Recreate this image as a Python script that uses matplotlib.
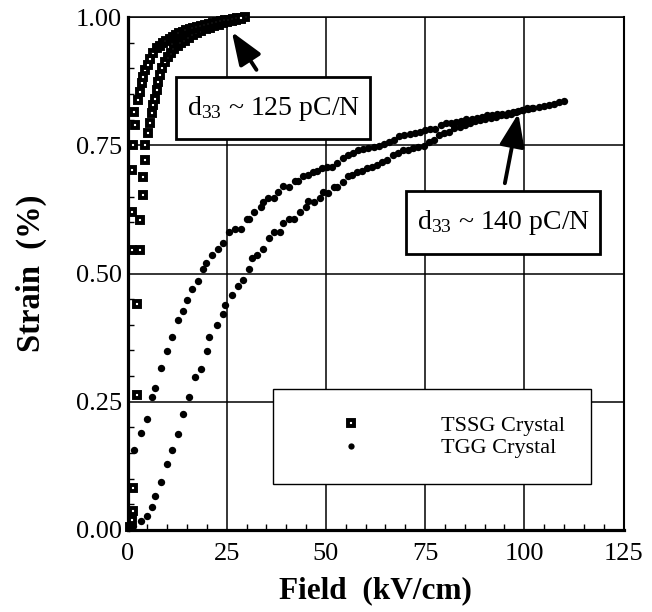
import matplotlib
matplotlib.use("Agg")
import matplotlib.pyplot as plt
from matplotlib.patches import Rectangle
from matplotlib.ticker import MultipleLocator, FixedLocator

plt.rcParams["font.family"] = ["Liberation Serif", "DejaVu Serif"]
plt.rcParams["mathtext.fontset"] = "custom"
plt.rcParams["mathtext.rm"] = "Liberation Serif"
plt.rcParams["mathtext.it"] = "Liberation Serif:italic"
plt.rcParams["mathtext.bf"] = "Liberation Serif:bold"

# ---- TSSG crystal: rising-field branch ----
tssg_up_field = [0.6, 1.1, 1.5, 1.5, 2.3, 2.3, 3.2, 3.2, 3.8, 3.8, 4.4, 4.4, 5.2, 5.7,
                 6.1, 6.5, 6.9, 7.4, 7.8, 8.2, 8.6, 9.5, 10.2, 11.0, 11.8, 12.7, 13.6,
                 14.5, 15.5, 16.5, 17.5, 18.6, 19.7, 20.8, 21.9, 23.0, 24.1, 25.2, 26.3,
                 27.4, 28.5, 29.6]
tssg_up_strain = [0.006, 0.019, 0.037, 0.081, 0.263, 0.440, 0.546, 0.605, 0.653, 0.689,
                  0.721, 0.750, 0.773, 0.793, 0.812, 0.828, 0.841, 0.858, 0.874, 0.887,
                  0.900, 0.913, 0.922, 0.930, 0.937, 0.943, 0.949, 0.954, 0.959, 0.964,
                  0.968, 0.972, 0.976, 0.979, 0.982, 0.985, 0.988, 0.990, 0.993, 0.995,
                  0.997, 1.000]

# ---- TSSG crystal: falling-field branch ----
tssg_down_field = [1.1, 1.1, 1.1, 1.5, 1.9, 1.6, 2.7, 3.2, 3.6, 4.0, 4.4, 5.1, 5.7, 6.5,
                   7.4, 8.2, 9.0, 9.8, 10.6, 11.4, 12.2, 13.0, 13.9, 14.8, 15.7, 16.6,
                   17.5, 18.5, 19.5, 20.5, 21.5, 22.5, 23.5, 24.5, 25.5, 26.5, 27.5, 28.5]
tssg_down_strain = [0.546, 0.620, 0.702, 0.750, 0.790, 0.815, 0.838, 0.854, 0.871, 0.884,
                    0.897, 0.906, 0.919, 0.929, 0.939, 0.944, 0.950, 0.954, 0.958, 0.961,
                    0.965, 0.968, 0.971, 0.974, 0.977, 0.979, 0.981, 0.983, 0.985, 0.987,
                    0.989, 0.991, 0.993, 0.994, 0.995, 0.997, 0.998, 0.999]

# ---- TGG crystal: rising-field branch ----
tgg_up_field = [0.5, 1.5, 3.3, 4.8, 6.3, 6.9, 8.4, 9.9, 11.3, 12.7, 14.1, 15.6, 17.0, 18.4,
                20.0, 20.6, 22.5, 24.1, 24.6, 26.3, 27.8, 29.2, 30.7, 31.3, 32.7, 34.1,
                35.7, 36.9, 38.4, 39.3, 40.8, 42.0, 43.5, 45.0, 45.6, 47.0, 48.5, 49.2,
                50.6, 52.0, 52.9, 54.2, 55.6, 56.5, 57.8, 59.0, 60.3, 61.6, 62.9, 64.2,
                65.5, 66.8, 68.1, 69.4, 70.7, 72.0, 73.3, 74.6, 75.9, 77.2, 78.5, 79.8,
                81.1, 82.4, 83.7, 85.0, 86.3, 87.6, 88.9, 90.2, 91.5, 92.8, 94.1, 95.4,
                96.7, 98.0, 99.3, 100.6, 101.9]
tgg_up_strain = [0.003, 0.008, 0.018, 0.028, 0.044, 0.067, 0.094, 0.128, 0.155, 0.188,
                 0.227, 0.260, 0.299, 0.314, 0.349, 0.376, 0.400, 0.421, 0.439, 0.459,
                 0.476, 0.487, 0.509, 0.531, 0.537, 0.547, 0.570, 0.581, 0.581, 0.598,
                 0.607, 0.607, 0.619, 0.630, 0.642, 0.640, 0.648, 0.658, 0.656, 0.669,
                 0.669, 0.679, 0.690, 0.692, 0.697, 0.699, 0.706, 0.708, 0.712, 0.718,
                 0.722, 0.731, 0.735, 0.740, 0.741, 0.744, 0.747, 0.749, 0.757, 0.760,
                 0.770, 0.773, 0.776, 0.783, 0.785, 0.790, 0.794, 0.798, 0.800, 0.802,
                 0.804, 0.806, 0.808, 0.809, 0.811, 0.814, 0.818, 0.822, 0.823]

# ---- TGG crystal: falling-field branch ----
tgg_down_field = [1.6, 3.3, 4.8, 6.3, 6.9, 8.4, 9.9, 11.3, 12.7, 13.9, 14.9, 16.2, 17.8,
                  19.1, 19.8, 21.4, 22.7, 24.1, 25.7, 27.1, 28.5, 30.0, 30.6, 32.0, 33.6,
                  34.1, 35.5, 36.9, 37.9, 39.3, 40.7, 42.2, 43.0, 44.3, 45.6, 46.8, 47.8,
                  49.0, 50.3, 51.6, 52.9, 54.2, 55.5, 56.8, 58.1, 59.4, 60.7, 62.0, 63.3,
                  64.6, 65.9, 67.2, 68.5, 69.8, 71.1, 72.4, 73.7, 75.0, 76.3, 77.6, 78.9,
                  80.2, 81.5, 82.8, 84.1, 85.4, 86.7, 88.0, 89.3, 90.6, 91.9, 93.2, 94.5,
                  95.8, 97.1, 98.4, 99.7, 101.0, 102.3, 103.6, 104.9, 106.2, 107.5, 108.8,
                  110.0]
tgg_down_strain = [0.156, 0.190, 0.216, 0.260, 0.276, 0.316, 0.349, 0.377, 0.409, 0.426,
                   0.448, 0.470, 0.486, 0.508, 0.520, 0.536, 0.548, 0.559, 0.581, 0.586,
                   0.586, 0.607, 0.607, 0.619, 0.630, 0.640, 0.647, 0.647, 0.658, 0.671,
                   0.668, 0.680, 0.680, 0.690, 0.692, 0.697, 0.699, 0.705, 0.708, 0.708,
                   0.715, 0.725, 0.731, 0.734, 0.740, 0.742, 0.744, 0.747, 0.748, 0.752,
                   0.757, 0.760, 0.768, 0.770, 0.771, 0.773, 0.776, 0.780, 0.781, 0.782,
                   0.790, 0.793, 0.793, 0.795, 0.798, 0.801, 0.802, 0.804, 0.806, 0.808,
                   0.809, 0.810, 0.811, 0.812, 0.815, 0.816, 0.819, 0.821, 0.823, 0.825,
                   0.827, 0.829, 0.831, 0.834, 0.836]

x_ticks = [0, 25, 50, 75, 100, 125]
x_tick_labels = ["0", "25", "50", "75", "100", "125"]
y_ticks = [0.00, 0.25, 0.50, 0.75, 1.00]
y_tick_labels = ["0.00", "0.25", "0.50", "0.75", "1.00"]

series_names = ["TSSG Crystal", "TGG Crystal"]
d33_texts = [r"d$_{33}$ ~ 125 pC/N", r"d$_{33}$ ~ 140 pC/N"]

fig = plt.figure(figsize=(6.52, 6.12), dpi=100)
ax = fig.add_axes([127.5 / 652, 82 / 612, 496 / 652, 513 / 612])

sq = dict(linestyle="none", marker="s", markersize=4.4, markeredgewidth=2.8,
          markerfacecolor="white", markeredgecolor="black", clip_on=False, zorder=3)
dot = dict(linestyle="none", marker="o", markersize=5.3, markeredgewidth=0,
           color="black", clip_on=False, zorder=3)

h_tssg, = ax.plot(tssg_up_field, tssg_up_strain, **sq)
ax.plot(tssg_down_field, tssg_down_strain, **sq)
h_tgg, = ax.plot(tgg_up_field, tgg_up_strain, **dot)
ax.plot(tgg_down_field, tgg_down_strain, **dot)

ax.set_xlim(0, 125)
ax.set_ylim(0, 1.0)
ax.xaxis.set_major_locator(FixedLocator(x_ticks))
ax.set_xticklabels(x_tick_labels)
ax.yaxis.set_major_locator(FixedLocator(y_ticks))
ax.set_yticklabels(y_tick_labels)
ax.xaxis.set_minor_locator(MultipleLocator(5))
ax.yaxis.set_minor_locator(MultipleLocator(0.05))
ax.tick_params(which="both", direction="in", labelsize=19, colors="black")
ax.tick_params(which="major", length=0, pad=4)
ax.tick_params(axis="x", which="major", pad=9)
ax.tick_params(which="minor", length=4, width=1.0)
ax.grid(True, which="major", color="black", linewidth=1.1)
ax.set_axisbelow(True)

for side, lw in (("left", 2.3), ("bottom", 2.3), ("top", 1.1), ("right", 1.5)):
    ax.spines[side].set_linewidth(lw)
    ax.spines[side].set_color("black")

ax.set_xlabel("Field  (kV/cm)", fontsize=22.5, fontweight="bold")
ax.set_ylabel("Strain  (%)", fontsize=23.5, fontweight="bold")
ax.xaxis.set_label_coords(0.5, -0.09)
ax.yaxis.set_label_coords(-0.163, 0.5)

# annotation boxes with arrows
boxes = [((12.25, 0.762), 48.85, 0.121), ((70.2, 0.538), 48.9, 0.123)]
arrows = [((26.3, 0.971), (32.5, 0.897)), ((98.5, 0.812), (95.1, 0.676))]
for (xy, w, h), txt, (tip, tail) in zip(boxes, d33_texts, arrows):
    ax.add_patch(Rectangle(xy, w, h, facecolor="white", edgecolor="black",
                           linewidth=2.0, zorder=4))
    ax.text(xy[0] + w / 2, xy[1] + h / 2, txt, ha="center", va="center",
            fontsize=20, zorder=5)
    ax.annotate("", xy=tip, xytext=tail,
                arrowprops=dict(arrowstyle="-|>,head_length=1.0,head_width=0.38",
                                lw=2.8, color="black", shrinkA=0, shrinkB=0,
                                mutation_scale=20), zorder=5)

leg = ax.legend([h_tssg, h_tgg], series_names, loc="upper left",
                bbox_to_anchor=(0.294, 0.274), borderaxespad=0, fontsize=16,
                numpoints=1, handlelength=4.7, handletextpad=1.7, borderpad=1.15,
                labelspacing=0.1, fancybox=False, framealpha=1, edgecolor="black",
                markerscale=0.85)
leg.get_frame().set_linewidth(1.0)
leg.set_zorder(6)

fig.savefig("out.png", dpi=100)
